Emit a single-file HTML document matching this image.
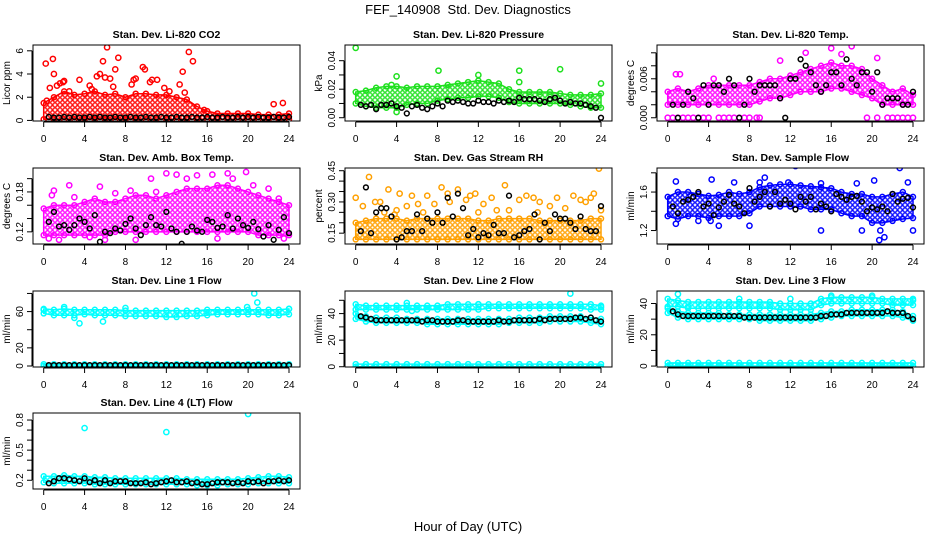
<!DOCTYPE html>
<html><head><meta charset="utf-8"><style>
html,body{margin:0;padding:0;background:#fff;}
svg{display:block;font-family:"Liberation Sans",Arial,sans-serif;}
</style></head><body>
<svg id="chart" width="936" height="540" viewBox="0 0 936 540" xmlns="http://www.w3.org/2000/svg">
<defs id="defs"></defs>
<rect width="936" height="540" fill="#fff"/>
<text x="468" y="14" text-anchor="middle" font-size="13">FEF_140908&#160; Std. Dev. Diagnostics</text>
<text x="468" y="531" text-anchor="middle" font-size="13">Hour of Day (UTC)</text>
</svg>
<script>
const hours = [0,1,2,3,4,5,6,7,8,9,10,11,12,13,14,15,16,17,18,19,20,21,22,23,24];
const blackHours = [0.5,1,1.5,2,2.5,3,3.5,4,4.5,5,5.5,6,6.5,7,7.5,8,8.5,9,9.5,10,10.5,11,11.5,12,12.5,13,13.5,14,14.5,15,15.5,16,16.5,17,17.5,18,18.5,19,19.5,20,20.5,21,21.5,22,22.5,23,23.5,24];
const xTicks = [0,4,8,12,16,20,24];
const zeroLo = [0,0,0,0,0,0,0,0,0,0,0,0,0,0,0,0,0,0,0,0,0,0,0,0,0];
const zeroHi = [2,2,2,2,2,2,2,2,2,2,2,2,2,2,2,2,2,2,2,2,2,2,2,2,2];

// CO2
const co2Hi = [1.5,2,2.5,2.2,2.3,2.5,2.2,2.3,2.0,2.3,2.3,2.2,2.2,2.0,1.8,1.2,0.8,0.6,0.6,0.6,0.6,0.5,0.5,0.5,0.6];
const co2Lo = [0.1,0.1,0.1,0.1,0.1,0.1,0.1,0.1,0.1,0.1,0.1,0.1,0.1,0.1,0.1,0.1,0.1,0.1,0.1,0.1,0.1,0.1,0.1,0.1,0.1];
const co2OutX = [0.2,0.9,1.0,0.3,0.6,1.3,1.6,1.9,2.0,3.5,4.5,4.7,5.2,5.5,5.8,6.2,6.0,6.5,7.0,7.3,6.8,8.6,8.8,9.0,9.7,9.9,10.4,10.6,11.1,11.8,12.3,13.3,13.6,14.2,14.6,13.8,2.5,22.5,23.4,15.7];
const co2OutY = [4.9,5.3,4.0,1.7,2.8,3.0,3.2,3.3,3.4,3.5,3.0,2.7,3.8,4.0,5.1,6.3,3.7,3.6,4.4,5.4,2.9,3.1,3.5,3.6,4.6,4.4,3.3,3.5,3.5,2.8,2.5,3.1,4.2,5.9,5.1,2.4,2.5,1.4,1.5,0.9];
const co2Black = [0.3,0.25,0.25,0.3,0.25,0.3,0.25,0.25,0.3,0.25,0.3,0.25,0.25,0.3,0.25,0.25,0.3,0.25,0.25,0.3,0.25,0.25,0.3,0.25,0.25,0.3,0.25,0.25,0.3,0.25,0.25,0.3,0.25,0.25,0.3,0.25,0.25,0.3,0.25,0.3,0.25,0.3,0.25,0.25,0.3,0.25,0.25,0.3];

// Pressure
const presHi = [0.018,0.019,0.021,0.022,0.022,0.021,0.022,0.022,0.022,0.023,0.024,0.025,0.026,0.025,0.024,0.020,0.018,0.018,0.018,0.018,0.017,0.016,0.016,0.016,0.017];
const presLo = [0.010,0.008,0.007,0.007,0.007,0.009,0.010,0.010,0.012,0.013,0.014,0.014,0.015,0.015,0.014,0.011,0.010,0.010,0.010,0.010,0.010,0.009,0.008,0.007,0.007];
const presOutX = [0,4,8.1,12,16,16,20,24,4,3.5];
const presOutY = [0.049,0.029,0.033,0.030,0.033,0.025,0.034,0.024,0.004,0.023];
const presBlack = [0.009,0.008,0.009,0.006,0.009,0.009,0.010,0.008,0.007,0.003,0.008,0.009,0.007,0.006,0.008,0.010,0.008,0.012,0.011,0.012,0.011,0.010,0.010,0.012,0.011,0.011,0.010,0.012,0.011,0.012,0.011,0.014,0.013,0.013,0.013,0.012,0.011,0.013,0.014,0.012,0.010,0.011,0.010,0.010,0.009,0.008,0.007,0.000];

// Li-820 temp
const tempHi = [0.004,0.0045,0.004,0.0045,0.005,0.005,0.005,0.005,0.005,0.0055,0.006,0.006,0.0065,0.007,0.0075,0.008,0.0085,0.008,0.008,0.0075,0.006,0.005,0.004,0.0045,0.0035];
const tempLo = [0.002,0.002,0.002,0.002,0.002,0.002,0.002,0.002,0.002,0.0025,0.003,0.003,0.0035,0.004,0.004,0.004,0.0045,0.0045,0.004,0.0035,0.003,0.002,0.002,0.002,0.002];
const tempOutX = [0,0.5,1,1.5,2,2.5,3,3.5,4,5,5.5,6,6.5,7,7.5,8,8.7,9,19.5,20.5,21.5,22,22.5,23,23.5,24,16,18,13.5,17,0.8,1.2,4.5,11,20.5];
const tempOutY = [0,0,0,0,0,0,0,0,0,0,0,0,0,0,0,0,0,0,0,0,0,0,0,0,0,0,0.0107,0.0110,0.010,0.0098,0.0067,0.0067,0.006,0.0088,0.0092];
const tempBlack = [0.002,0.000,0.002,0.004,0.003,0.000,0.005,0.002,0.005,0.005,0.004,0.006,0.005,0.000,0.002,0.006,0.004,0.005,0.005,0.005,0.005,0.003,0.000,0.006,0.006,0.009,0.008,0.007,0.005,0.004,0.005,0.007,0.007,0.005,0.009,0.006,0.005,0.007,0.007,0.004,0.007,0.002,0.003,0.003,0.003,0.002,0.002,0.004];

// Amb box temp
const ambHi = [0.155,0.16,0.16,0.16,0.165,0.17,0.165,0.165,0.17,0.175,0.175,0.17,0.175,0.18,0.185,0.185,0.185,0.19,0.19,0.185,0.18,0.175,0.17,0.165,0.16];
const ambLo = [0.115,0.115,0.115,0.115,0.115,0.115,0.115,0.12,0.12,0.12,0.12,0.12,0.12,0.12,0.12,0.12,0.12,0.12,0.12,0.12,0.12,0.115,0.115,0.115,0.115];
const ambOutX = [1,2.5,5.5,12,13,15,16.5,18,18.5,19.8,0.5,1.5,4.5,6,9,17,23.5,10.5,14,0.8,3,7,8.5,11,20.5,22,23];
const ambOutY = [0.182,0.19,0.188,0.208,0.206,0.205,0.206,0.208,0.2,0.21,0.11,0.108,0.112,0.108,0.108,0.11,0.11,0.2,0.2,0.175,0.172,0.178,0.182,0.18,0.19,0.185,0.17];
const ambBlack = [0.135,0.15,0.128,0.13,0.123,0.13,0.14,0.135,0.125,0.145,0.105,0.12,0.118,0.125,0.122,0.132,0.14,0.125,0.115,0.13,0.142,0.13,0.128,0.15,0.125,0.12,0.102,0.12,0.128,0.122,0.12,0.138,0.135,0.126,0.128,0.145,0.125,0.14,0.13,0.126,0.135,0.124,0.113,0.13,0.108,0.123,0.142,0.118];

// Gas stream RH
const rhHi = [0.2,0.21,0.22,0.22,0.22,0.21,0.22,0.22,0.22,0.22,0.22,0.22,0.21,0.21,0.22,0.22,0.22,0.22,0.21,0.21,0.21,0.21,0.21,0.22,0.22];
const rhLo = [0.12,0.12,0.12,0.12,0.12,0.12,0.12,0.12,0.12,0.12,0.12,0.12,0.12,0.12,0.12,0.12,0.12,0.12,0.12,0.12,0.12,0.12,0.12,0.12,0.12];
const rhOutX = [0,0.7,1.3,1.9,2.4,3.2,3.8,4.3,5,5.5,6.1,7,7.7,8.4,9,9.2,10,10.8,11.2,11.7,12.5,13.3,13.8,14.6,15,16,16.7,17.4,18,19,19.7,20.5,21.3,22,22.5,23,23.3,23.8,24,12,6.6,4,17.8,2.8];
const rhOutY = [0.32,0.28,0.42,0.30,0.30,0.36,0.24,0.34,0.28,0.33,0.29,0.33,0.29,0.37,0.34,0.30,0.36,0.31,0.33,0.34,0.29,0.32,0.26,0.38,0.26,0.31,0.33,0.32,0.30,0.28,0.32,0.27,0.33,0.31,0.30,0.32,0.34,0.46,0.26,0.25,0.25,0.26,0.25,0.25];
const rhBlack = [0.16,0.37,0.15,0.25,0.27,0.27,0.23,0.12,0.13,0.16,0.16,0.24,0.16,0.22,0.2,0.25,0.2,0.32,0.23,0.34,0.27,0.14,0.17,0.13,0.15,0.14,0.19,0.15,0.15,0.33,0.13,0.14,0.16,0.17,0.24,0.12,0.2,0.16,0.24,0.22,0.22,0.2,0.17,0.23,0.17,0.16,0.16,0.28];

// Sample flow
const flowHi = [1.55,1.6,1.6,1.58,1.56,1.57,1.6,1.58,1.6,1.65,1.67,1.68,1.68,1.67,1.66,1.65,1.64,1.6,1.58,1.58,1.55,1.55,1.58,1.6,1.55];
const flowLo = [1.35,1.32,1.35,1.35,1.33,1.35,1.35,1.35,1.38,1.45,1.45,1.45,1.45,1.45,1.42,1.42,1.42,1.38,1.35,1.35,1.28,1.28,1.3,1.32,1.33];
const flowOutX = [0,0.8,4.3,9.5,12.5,15,18.5,20.2,22.7,24,15,19,20.7,21.2,3,4.2,5,8,6.5,9,11.8,23.5,20.8,0.8];
const flowOutY = [1.9,1.71,1.73,1.75,1.87,1.69,1.69,1.72,1.85,1.2,1.2,1.2,1.1,1.13,1.3,1.3,1.25,1.25,1.7,1.7,1.7,1.7,1.2,1.27];
const flowBlack = [1.45,1.38,1.5,1.52,1.55,1.6,1.45,1.48,1.36,1.44,1.5,1.57,1.48,1.45,1.38,1.64,1.5,1.55,1.6,1.45,1.6,1.48,1.52,1.48,1.42,1.55,1.5,1.55,1.42,1.48,1.45,1.4,1.58,1.55,1.52,1.55,1.56,1.5,1.4,1.44,1.42,1.45,1.4,1.58,1.5,1.53,1.54,1.44];

// Line 1
const l1Hi = [63,62,63,62,62,62,62,62,61,61,61,61,61,61,61,61,62,62,62,62,62,62,62,62,63];
const l1Lo = [58,56,56,56,57,56,56,56,55,55,55,55,54,54,55,55,56,57,57,57,57,57,56,56,57];
const l1OutX = [2,3,3.5,5.8,8,20.6,20.9,19.9,24,0];
const l1OutY = [65,53,47,49,64,80,70,65,63,62];
const l1Black = [1,1,1,1,1,1,1,1,1,1,1,1,1,1,1,1,1,1,1,1,1,1,1,1,1,1,1,1,1,1,1,1,1,1,1,1,1,1,1,1,1,1,1,1,1,1,1,1];

// Line 2
const l2Hi = [47,46,46,46,46,46,46,46,46,47,47,47,47,47,47,47,47,47,47,47,47,47,47,47,46];
const l2Lo = [43,43,43,43,43,43,43,43,43,43,43,43,43,44,44,44,44,44,44,44,44,44,44,43,43];
const l2LowHi = [40,38,37,37,37,36,36,36,36,36,36,36,36,36,36,36,37,37,37,38,38,38,38,37,36];
const l2LowLo = [36,34,33,33,33,33,33,32,32,32,32,32,32,32,32,33,33,33,33,34,34,34,34,33,32];
const l2OutX = [21,12,5,5.5,24];
const l2OutY = [55,47,48,42,45];
const l2Black = [38,37,36,35,35,35,35,35,35,35,35,35,34,35,35,34,34,34,34,35,35,34,34,34,34,34,34,35,34,34,35,35,35,35,35,36,35,36,36,36,36,36,37,37,36,37,35,34];

// Line 3
const l3Hi = [43,42,41,41,41,41,41,41,41,41,41,40,40,40,40,43,44,44,44,44,44,43,43,43,43];
const l3Lo = [38,38,37,37,37,37,37,37,37,37,37,36,36,36,36,39,40,40,40,40,40,40,39,39,39];
const l3LowHi = [37,35,34,34,34,34,33,33,33,33,33,33,33,33,33,34,35,35,36,36,36,36,36,35,32];
const l3LowLo = [34,31,30,30,30,30,30,30,30,29,29,29,29,29,29,30,31,32,32,32,32,32,32,31,29];
const l3OutX = [1,16,20,12,7,2,24];
const l3OutY = [46,45,45,43,43,38,42];
const l3Black = [35,33,32,32,32,32,32,32,32,32,32,32,32,32,31,31,31,31,31,31,31,31,31,31,31,31,31,31,31,32,32,33,33,33,34,34,34,34,34,34,34,34,35,34,34,34,32,30];

// Line 4
const l4Hi = [0.24,0.24,0.25,0.24,0.24,0.23,0.23,0.22,0.22,0.22,0.22,0.22,0.22,0.22,0.21,0.21,0.21,0.21,0.21,0.21,0.22,0.23,0.24,0.24,0.23];
const l4Lo = [0.18,0.17,0.17,0.17,0.17,0.16,0.16,0.16,0.16,0.16,0.16,0.16,0.16,0.16,0.16,0.15,0.15,0.15,0.16,0.16,0.16,0.17,0.17,0.17,0.17];
const l4OutX = [4,12,20];
const l4OutY = [0.72,0.68,0.86];
const l4Black = [0.17,0.19,0.22,0.22,0.21,0.2,0.19,0.22,0.18,0.2,0.17,0.2,0.17,0.19,0.19,0.19,0.17,0.17,0.17,0.18,0.16,0.17,0.18,0.19,0.2,0.18,0.18,0.19,0.17,0.18,0.16,0.16,0.17,0.18,0.18,0.18,0.17,0.18,0.17,0.19,0.18,0.19,0.17,0.19,0.19,0.2,0.19,0.2];

const panels = [
 {key:'co2',title:'Stan. Dev. Li-820 CO2',ylab:'Licor ppm',col:0,row:0,ylim:[-0.05,6.5],ticks:[0,2,4,6],labels:['0','2','4','6'],color:'#ff0000',bands:[[co2Lo,co2Hi]],ox:co2OutX,oy:co2OutY,black:co2Black},
 {key:'pressure',title:'Stan. Dev. Li-820 Pressure',ylab:'kPa',col:1,row:0,ylim:[-0.0023,0.051],ticks:[0,0.01,0.02,0.03,0.04],labels:['0.00','','0.02','','0.04'],color:'#1ee01e',bands:[[presLo,presHi]],ox:presOutX,oy:presOutY,black:presBlack},
 {key:'li820-temp',title:'Stan. Dev. Li-820 Temp.',ylab:'degrees C',col:2,row:0,ylim:[-0.0005,0.0112],ticks:[0,0.002,0.004,0.006,0.008,0.010],labels:['0.000','','','0.006','',''],color:'#ff00ff',bands:[[tempLo,tempHi]],ox:tempOutX,oy:tempOutY,black:tempBlack},
 {key:'amb-box-temp',title:'Stan. Dev. Amb. Box Temp.',ylab:'degrees C',col:0,row:1,ylim:[0.1017,0.216],ticks:[0.12,0.14,0.16,0.18,0.20],labels:['0.12','','','0.18',''],color:'#ff00ff',bands:[[ambLo,ambHi]],ox:ambOutX,oy:ambOutY,black:ambBlack},
 {key:'gas-rh',title:'Stan. Dev. Gas Stream RH',ylab:'percent',col:1,row:1,ylim:[0.098,0.463],ticks:[0.15,0.2,0.25,0.3,0.35,0.4,0.45],labels:['0.15','','','0.30','','','0.45'],color:'#ffa000',bands:[[rhLo,rhHi]],ox:rhOutX,oy:rhOutY,black:rhBlack},
 {key:'sample-flow',title:'Stan. Dev. Sample Flow',ylab:'ml/min',col:2,row:1,ylim:[1.06,1.85],ticks:[1.2,1.4,1.6,1.8],labels:['1.2','','1.6',''],color:'#0000ff',bands:[[flowLo,flowHi]],ox:flowOutX,oy:flowOutY,black:flowBlack},
 {key:'line1-flow',title:'Stan. Dev. Line 1 Flow',ylab:'ml/min',col:0,row:2,ylim:[-1.1,82.7],ticks:[0,20,40,60,80],labels:['0','20','','60',''],color:'#00ffff',bands:[[l1Lo,l1Hi],[zeroLo,zeroHi]],ox:l1OutX,oy:l1OutY,black:l1Black},
 {key:'line2-flow',title:'Stan. Dev. Line 2 Flow',ylab:'ml/min',col:1,row:2,ylim:[-0.2,57],ticks:[0,10,20,30,40,50],labels:['0','','20','','40',''],color:'#00ffff',bands:[[l2Lo,l2Hi],[l2LowLo,l2LowHi],[zeroLo,zeroHi]],ox:l2OutX,oy:l2OutY,black:l2Black},
 {key:'line3-flow',title:'Stan. Dev. Line 3 Flow',ylab:'ml/min',col:2,row:2,ylim:[-0.6,48],ticks:[0,10,20,30,40],labels:['0','','20','','40'],color:'#00ffff',bands:[[l3Lo,l3Hi],[l3LowLo,l3LowHi],[zeroLo,zeroHi]],ox:l3OutX,oy:l3OutY,black:l3Black},
 {key:'line4-flow',title:'Stan. Dev. Line 4 (LT) Flow',ylab:'ml/min',col:0,row:3,ylim:[0.113,0.87],ticks:[0.2,0.3,0.4,0.5,0.6,0.7,0.8],labels:['0.2','','','0.5','','','0.8'],color:'#00ffff',bands:[[l4Lo,l4Hi]],ox:l4OutX,oy:l4OutY,black:l4Black}
];

const NS='http://www.w3.org/2000/svg';
const svg=document.getElementById('chart');
const defs=document.getElementById('defs');
const colLeft=[33,345,657], rowTop=[45,168,291,413], BW=267, BH=76;
function mk(tag,attrs,parent){const e=document.createElementNS(NS,tag);for(const k in attrs)e.setAttribute(k,attrs[k]);(parent||svg).appendChild(e);return e;}

panels.forEach((p,pi)=>{
  const L=colLeft[p.col], T=rowTop[p.row];
  const xs=v=>L+10.7+v*(245.3/24);
  const ys=v=>T+BH-(v-p.ylim[0])/(p.ylim[1]-p.ylim[0])*BH;
  const g=mk('g',{});
  
  
  const pat=mk('pattern',{id:'pat'+pi,width:5,height:5,patternUnits:'userSpaceOnUse'},defs);
  mk('rect',{width:5,height:5,fill:'#fff'},pat);
  mk('circle',{cx:2.5,cy:2.5,r:1.8,fill:'none',stroke:p.color,'stroke-width':1.3},pat);
  const clip=mk('clipPath',{id:'clip'+pi},defs);
  mk('rect',{x:L,y:T,width:BW,height:BH},clip);
  const plot=mk('g',{'clip-path':'url(#clip'+pi+')'},g);
  p.bands.forEach((b,bi)=>{
    const lo=b[0],hi=b[1];
    let pts=hours.map((h,i)=>xs(h)+','+ys(hi[i]));
    pts=pts.concat(hours.map((h,i)=>[h,i]).reverse().map(([h,i])=>xs(h)+','+ys(lo[i])));
    const poly=mk('polygon',{points:pts.join(' '),fill:'url(#pat'+pi+')',stroke:p.color,'stroke-width':1.5,'stroke-linejoin':'round'},plot);
    
    
    hours.forEach((h,i)=>{
      [hi[i],lo[i]].forEach(v=>{
        const c=mk('circle',{cx:xs(h),cy:ys(v),r:2.5,fill:'none',stroke:p.color,'stroke-width':1.5},plot);
        
        
      });
    });
  });
  p.ox.forEach((x,i)=>{
    const c=mk('circle',{cx:xs(x),cy:ys(p.oy[i]),r:2.6,fill:'none',stroke:p.color,'stroke-width':1.5},plot);
    
    
  });
  p.black.forEach((v,i)=>{
    const c=mk('circle',{cx:xs(blackHours[i]),cy:ys(v),r:2.4,fill:'none',stroke:'#000','stroke-width':1.5},plot);
    
    
  });
  const box=mk('rect',{x:L,y:T,width:BW,height:BH,fill:'none',stroke:'#000','stroke-width':1},g);
  
  
  const t=mk('text',{x:L+BW/2,y:T-7,'text-anchor':'middle','font-size':10.5,'font-weight':'bold'},g);
  t.textContent=p.title;
  
  
  mk('line',{x1:xs(0),x2:xs(24),y1:T+BH+1,y2:T+BH+1,stroke:'#000','stroke-width':1},g);
  xTicks.forEach(v=>{
    mk('line',{x1:xs(v),x2:xs(v),y1:T+BH+1,y2:T+BH+6,stroke:'#000','stroke-width':1},g);
    const tl=mk('text',{x:xs(v),y:T+BH+21,'text-anchor':'middle','font-size':10},g);
    tl.textContent=v;
    
    
  });
  mk('line',{x1:L-1,x2:L-1,y1:ys(p.ticks[0]),y2:ys(p.ticks[p.ticks.length-1]),stroke:'#000','stroke-width':1},g);
  p.ticks.forEach((v,i)=>{
    mk('line',{x1:L-6,x2:L-1,y1:ys(v),y2:ys(v),stroke:'#000','stroke-width':1},g);
    if(p.labels[i]){
      const yl=mk('text',{x:0,y:0,'text-anchor':'middle','font-size':10,transform:'translate('+(L-10)+','+ys(v)+') rotate(-90)'},g);
      yl.textContent=p.labels[i];
      
      
    }
  });
  const yt=mk('text',{x:0,y:0,'text-anchor':'middle','font-size':10,transform:'translate('+(L-23)+','+(T+BH/2)+') rotate(-90)'},g);
  yt.textContent=p.ylab;
  
  
});
</script>
</body></html>
